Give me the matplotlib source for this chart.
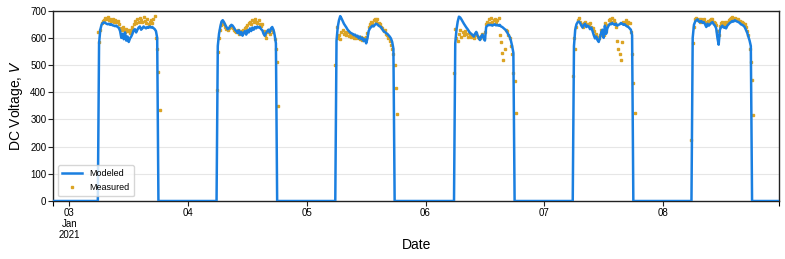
import numpy as np
import pandas as pd
import matplotlib
matplotlib.use("Agg")
import matplotlib.pyplot as plt

plt.rcParams['font.family'] = ['Liberation Sans', 'DejaVu Sans']

days = ["2021-01-03", "2021-01-04", "2021-01-05", "2021-01-06", "2021-01-07", "2021-01-08"]

# modeled DC voltage, 15 min steps 06:00 .. 17:45 (zero at night)
modeled_03 = [580, 630, 648, 655, 657, 655, 652, 650, 652, 648, 650, 646, 645, 643, 645, 640,
              637, 625, 600, 615, 595, 620, 590, 605, 585, 598, 605, 615, 628, 632, 620, 630,
              638, 642, 630, 635, 642, 638, 635, 640, 637, 642, 638, 640, 636, 632, 625, 600]
modeled_04 = [570, 615, 640, 660, 665, 658, 648, 640, 632, 635, 642, 648, 645, 638, 630, 625,
              618, 628, 612, 622, 608, 618, 625, 612, 628, 620, 635, 625, 638, 630, 640, 635,
              642, 638, 640, 632, 628, 615, 608, 618, 625, 630, 620, 635, 640, 630, 610, 580]
modeled_05 = [590, 640, 665, 680, 672, 662, 652, 645, 638, 630, 625, 620, 617, 615, 610, 612,
              605, 608, 598, 605, 595, 600, 588, 595, 580, 598, 625, 635, 640, 645, 642, 648,
              652, 650, 645, 642, 640, 632, 625, 622, 618, 615, 610, 605, 598, 585, 560, 0]
modeled_06 = [580, 630, 660, 678, 675, 668, 660, 652, 645, 638, 632, 625, 618, 615, 610, 605,
              615, 622, 610, 600, 592, 605, 612, 598, 590, 640, 645, 648, 647, 648, 645, 648,
              650, 646, 648, 645, 648, 642, 640, 636, 632, 628, 620, 612, 604, 590, 570, 545]
modeled_07 = [570, 630, 650, 658, 660, 655, 645, 638, 648, 652, 640, 645, 642, 632, 638, 625,
              610, 598, 605, 592, 585, 600, 620, 630, 600, 645, 615, 635, 645, 652, 650, 655,
              650, 648, 652, 645, 648, 650, 655, 652, 648, 650, 645, 642, 640, 635, 630, 610]
modeled_08 = [600, 648, 660, 665, 668, 660, 658, 662, 655, 658, 650, 640, 652, 645, 650, 655,
              658, 650, 645, 635, 600, 575, 630, 640, 645, 638, 640, 635, 645, 650, 655, 658,
              662, 660, 665, 662, 660, 658, 655, 650, 648, 645, 640, 630, 620, 605, 590, 570]

# measured DC voltage, 15 min steps 05:45 .. 18:15
measured_03 = [620, 585, 630, 655, 662, 665, 672, 668, 675, 664, 670, 662, 668, 660, 665, 658, 662,
               650, 635, 628, 640, 630, 622, 632, 625, 630, 618, 628, 640, 650, 662, 655, 668, 660,
               672, 665, 658, 675, 662, 655, 668, 650, 660, 665, 655, 668, 680, 600, 560, 475, 335]
measured_04 = [410, 548, 600, 628, 648, 655, 650, 640, 632, 628, 638, 645, 640, 635, 630, 625, 620,
               628, 615, 625, 618, 630, 622, 635, 640, 648, 655, 660, 652, 665, 658, 668, 660, 655,
               665, 650, 645, 652, 625, 610, 600, 620, 628, 615, 632, 630, 620, 595, 560, 510, 350]
measured_05 = [500, 640, 600, 610, 595, 620, 628, 615, 622, 612, 620, 608, 615, 605, 612, 600, 608,
               598, 605, 600, 595, 602, 592, 600, 595, 605, 618, 640, 652, 660, 655, 665, 668, 660,
               670, 655, 650, 640, 635, 625, 630, 615, 610, 600, 590, 575, 560, 540, 500, 415, 320]
measured_06 = [470, 632, 600, 590, 615, 628, 605, 620, 610, 625, 615, 605, 618, 610, 602, 612, 598,
               610, 618, 605, 598, 600, 608, 615, 600, 620, 650, 660, 668, 655, 672, 660, 665, 670,
               658, 666, 672, 612, 585, 545, 520, 560, 630, 625, 610, 598, 570, 540, 472, 440, 322]
measured_07 = [460, 600, 560, 640, 665, 672, 660, 650, 640, 655, 660, 648, 652, 645, 655, 640, 635,
               625, 610, 615, 602, 598, 612, 630, 625, 610, 655, 625, 648, 665, 670, 660, 672, 665,
               655, 640, 590, 560, 540, 520, 585, 660, 655, 665, 650, 660, 655, 620, 540, 433, 322]
measured_08 = [225, 580, 640, 668, 672, 665, 670, 660, 668, 662, 670, 658, 650, 662, 655, 665, 668,
               670, 660, 655, 648, 625, 610, 645, 655, 660, 652, 658, 650, 660, 665, 668, 672, 675,
               668, 672, 670, 665, 668, 662, 660, 658, 655, 650, 640, 625, 610, 560, 512, 445, 316]

modeled_days = [modeled_03, modeled_04, modeled_05, modeled_06, modeled_07, modeled_08]
measured_days = [measured_03, measured_04, measured_05, measured_06, measured_07, measured_08]

x_start = pd.Timestamp("2021-01-02 20:45")
x_end = pd.Timestamp("2021-01-08 23:30")

index = pd.date_range(x_start, x_end, freq="15min")
modeled = pd.Series(0.0, index=index)
measured = pd.Series(np.nan, index=index)
for day, mod, meas in zip(days, modeled_days, measured_days):
    t0 = pd.Timestamp(day + " 05:45")
    modeled.loc[pd.date_range(t0 + pd.Timedelta("15min"), periods=len(mod), freq="15min")] = mod
    measured.loc[pd.date_range(t0, periods=len(meas), freq="15min")] = meas

fig = plt.figure(figsize=(7.85, 2.59), dpi=100)
ax = fig.add_axes([0.0679, 0.2239, 0.9248, 0.7348])

ax.plot(measured.index, measured.values, linestyle='none', marker='s', markersize=1.9,
        color='#dba425', label='Measured', zorder=2)
ax.plot(modeled.index, modeled.values, color='#1a7fe0', linewidth=1.8, label='Modeled', zorder=3)

ax.set_xlim(x_start, x_end)
ax.set_ylim(0, 700)
ax.set_yticks(range(0, 701, 100))
ax.grid(axis='y', color='#e6e6e6', linewidth=0.8)
ax.set_axisbelow(True)

tick_days = pd.to_datetime(days)
ax.set_xticks(tick_days)
ax.set_xticklabels(["03\nJan\n2021", "04", "05", "06", "07", "08"], linespacing=1.1)
ax.set_xticks([x_start, x_end], minor=True)
ax.tick_params(axis='both', labelsize=7, length=3.5, width=0.8, color='#222222', pad=1.5)
ax.tick_params(axis='x', which='minor', length=3.5, width=0.8)

for s in ax.spines.values():
    s.set_color('#222222')
    s.set_linewidth(1.0)

ax.set_ylabel("DC Voltage, $V$", fontsize=10, labelpad=4)
ax.set_xlabel("Date", fontsize=10, labelpad=-1)

handles, labels = ax.get_legend_handles_labels()
ax.legend(handles[::-1], labels[::-1], loc='lower left', fontsize=6.5, frameon=True,
          markerscale=1.0, borderpad=0.5, handlelength=2.2)

fig.savefig("out.png", dpi=100)
